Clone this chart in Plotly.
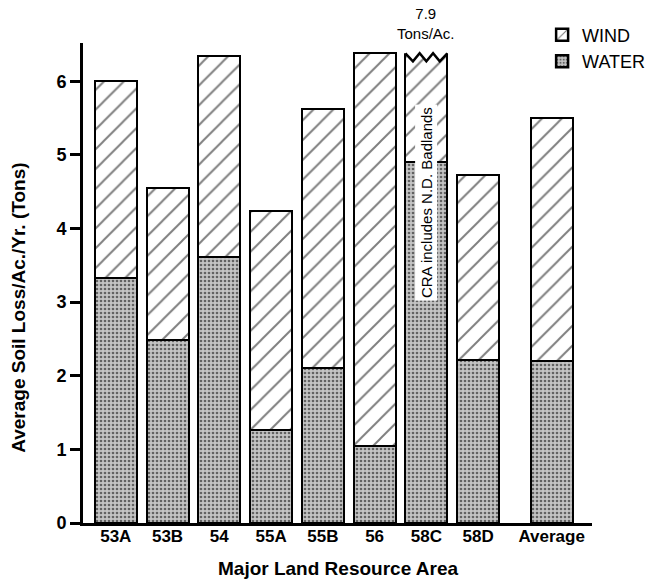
import plotly.graph_objects as go

# ---- data ----
areas = ["53A", "53B", "54", "55A", "55B", "56", "58C", "58D", "Average"]
water = [3.33, 2.49, 3.62, 1.27, 2.10, 1.05, 4.91, 2.21, 2.20]
total = [6.00, 4.55, 6.34, 4.24, 5.62, 6.38, 7.90, 4.73, 5.50]
y_ticks = [0, 1, 2, 3, 4, 5, 6]

# ---- display settings ----
BREAK_AT = 6.38          # where the broken (off-scale) bar is cut
AVG_GAP = 0.42           # extra space before the "Average" bar
BAR_W = 0.81
FONT = "Liberation Sans, Arial, Helvetica, sans-serif"

pos = [i + (AVG_GAP if a == "Average" else 0) for i, a in enumerate(areas)]
wind_shown = [min(t, BREAK_AT) - w for t, w in zip(total, water)]
broken = [i for i, t in enumerate(total) if t > BREAK_AT]

fig = go.Figure()
fig.add_trace(go.Bar(
    x=pos, y=water, name="WATER", width=BAR_W,
    marker=dict(color="#b8b8b8", line=dict(color="black", width=2.5),
                pattern=dict(shape=".", size=4, solidity=0.35,
                             fgcolor="black", bgcolor="#c4c4c4")),
))
fig.add_trace(go.Bar(
    x=pos, y=wind_shown, name="WIND", width=BAR_W,
    marker=dict(color="white", line=dict(color="black", width=2.5),
                pattern=dict(shape="/", size=14, solidity=0.14,
                             fgcolor="black", bgcolor="white")),
))

# zig-zag break on the off-scale bar
fr = [0, 0.18, 0.34, 0.5, 0.66, 0.82, 1.0]
dy = [0, -1, 0, -1, 0, -1, 0]
amp = 0.11
for i in broken:
    x0 = pos[i] - BAR_W / 2
    zx = [x0 + f * BAR_W for f in fr]
    zy = [BREAK_AT + d * amp for d in dy]
    # white mask above the zig-zag
    mx = zx + [zx[-1] + 0.03, zx[-1] + 0.03, zx[0] - 0.03, zx[0] - 0.03]
    my = zy + [BREAK_AT, BREAK_AT + 0.06, BREAK_AT + 0.06, BREAK_AT]
    fig.add_trace(go.Scatter(x=mx, y=my, fill="toself", fillcolor="white",
                             mode="none", showlegend=False, hoverinfo="skip"))
    fig.add_trace(go.Scatter(x=zx, y=zy, mode="lines",
                             line=dict(color="black", width=2.5),
                             showlegend=False, hoverinfo="skip"))
    fig.add_annotation(x=pos[i], y=BREAK_AT, xref="x", yref="y",
                       text=f"{total[i]:.1f}<br>Tons/Ac.", showarrow=False,
                       yanchor="bottom", yshift=9,
                       font=dict(family=FONT, size=15, color="black"))
    fig.add_annotation(x=pos[i], y=4.35, xref="x", yref="y",
                       text="CRA includes N.D. Badlands", showarrow=False,
                       textangle=-90, bgcolor="white", borderpad=2,
                       font=dict(family=FONT, size=15, color="black"))

# axis titles (placed as in the reference)
fig.add_annotation(text="Major Land Resource Area", xref="paper", yref="paper",
                   x=0.5, y=-0.095, yanchor="middle", showarrow=False,
                   font=dict(family=FONT, size=19, weight="bold", color="black"))
fig.add_annotation(text="Average Soil Loss/Ac./Yr. (Tons)", xref="paper", yref="paper",
                   x=-0.126, y=0.448, xanchor="center", yanchor="middle",
                   textangle=-90, showarrow=False,
                   font=dict(family=FONT, size=19, weight="bold", color="black"))

fig.update_layout(
    width=652, height=581,
    margin=dict(l=83, r=60, t=43, b=58, autoexpand=False),
    paper_bgcolor="white", plot_bgcolor="white",
    barmode="stack", bargap=0,
    font=dict(family=FONT, color="black"),
    showlegend=True,
    legend=dict(x=0.902, y=1.055, xanchor="left", yanchor="top",
                traceorder="reversed", bgcolor="rgba(0,0,0,0)",
                font=dict(family=FONT, size=18, color="black"),
                tracegroupgap=8, itemwidth=30),
    xaxis=dict(range=[-0.633, 9.2], tickvals=pos, ticktext=areas,
               showline=True, linecolor="black", linewidth=3,
               ticks="", showgrid=False, zeroline=False, automargin=False,
               ticklabelstandoff=-4,
               tickfont=dict(family=FONT, size=17, weight="bold")),
    yaxis=dict(range=[0, 6.52], tickvals=y_ticks,
               showline=True, linecolor="black", linewidth=3,
               ticks="outside", ticklen=10, tickwidth=2.5, tickcolor="black",
               showgrid=False, zeroline=False, automargin=False,
               tickfont=dict(family=FONT, size=18, weight="bold")),
)

fig.write_html("out.html", config={"displayModeBar": False},
               post_script="document.body.style.margin='0';")
